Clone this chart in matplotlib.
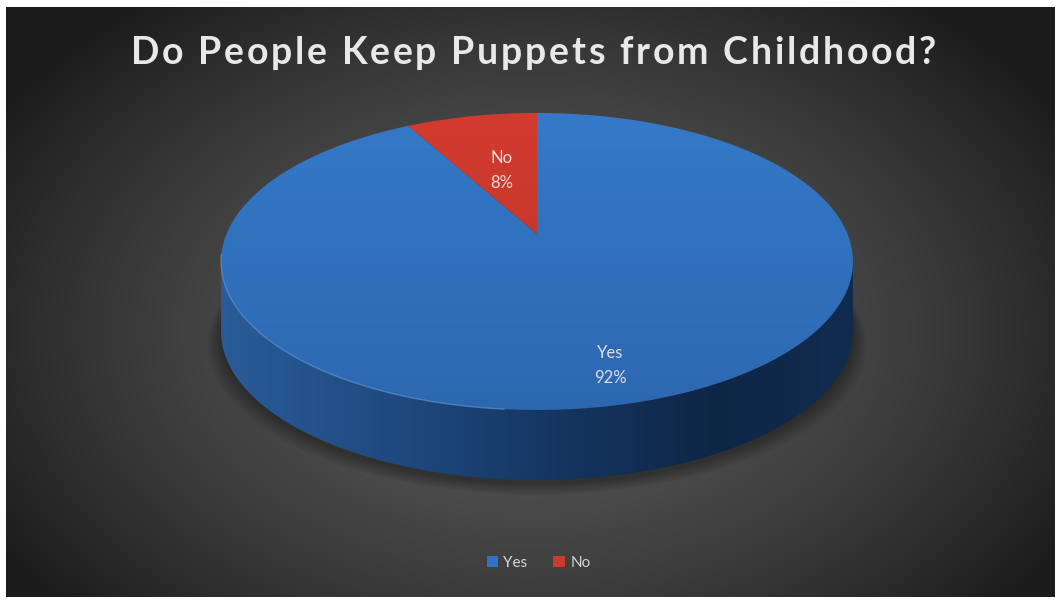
import numpy as np
import matplotlib.pyplot as plt
from matplotlib.patches import Polygon, Patch

title = 'Do People Keep Puppets from Childhood?'
labels = ['Yes', 'No']
values = [92, 8]
top_colors = [['#3579c8', '#2c68b0'], ['#d23c2e', '#b8302a']]
legend_colors = ['#2f74c4', '#cc3a2d']
label_radius = [0.81, 0.50]

W, H = 1060, 603
fig = plt.figure(figsize=(10.6, 6.03), dpi=100, facecolor='white')
ax = fig.add_axes([0, 0, 1, 1])


def hexrgb(h):
    return np.array([int(h[i:i + 2], 16) for i in (1, 3, 5)]) / 255.0


# dark radial background
x0, x1, y0, y1 = 6, 1055, 7, 597
yy, xx = np.mgrid[y0:y1, x0:x1]
r = np.sqrt(((xx - 530) / 620.0) ** 2 + ((yy - 330) / 420.0) ** 2)
g = (88 - 60 * np.clip(r, 0, 1) ** 1.6) / 255.0
ax.imshow(np.dstack([g, g, g]), extent=(x0, x1, y1, y0), zorder=0, aspect='auto')

# perspective pie geometry (pixels)
cx, cy = 537, 234
a, b, k = 310.5, 143.4, 0.185
depth = 70


def proj(theta, rho=1.0):
    # theta in degrees, clockwise from 12 o'clock
    t = np.radians(theta)
    u, v = rho * np.sin(t), -rho * np.cos(t)
    w = 1 - k * v
    return cx + a * u / w, cy + b * v / w


def vgrad(c_top, c_bot):
    t = np.linspace(0, 1, 200)[:, None, None]
    c0, c1 = hexrgb(c_top), hexrgb(c_bot)
    img = c0[None, None, :] * (1 - t) + c1[None, None, :] * t
    return np.repeat(img, 2, axis=1)


# soft shadow under the pie
th = np.linspace(0, 360, 361)
sx, sy = proj(th)
for i in range(8):
    grow = 1 + 0.006 * i
    ax.add_patch(Polygon(np.column_stack([cx + (sx - cx) * grow, sy + depth + 4 + 1.5 * i]),
                         closed=True, facecolor='black', edgecolor='none', alpha=0.045, zorder=1))

# side wall (front part of the rim, belongs to first slice)
th_r = np.degrees(np.arccos(-k))
th_l = 360 - th_r
ts = np.linspace(th_r, th_l, 200)
rx, ry = proj(ts)
side_pts = np.column_stack([np.r_[rx, rx[::-1]], np.r_[ry, ry[::-1] + depth]])
side = Polygon(side_pts, closed=True, facecolor='none', edgecolor='none', zorder=2)
ax.add_patch(side)
gx = np.linspace(0, 1, 400)
stops = [0, 0.3, 0.5, 0.78, 1.0]
cols = np.array([[42, 92, 152], [30, 72, 126], [22, 56, 100], [14, 38, 70], [18, 44, 80]]) / 255.0
side_img = np.stack([np.interp(gx, stops, cols[:, c]) for c in range(3)], axis=-1)[None, :, :]
side_img = np.repeat(side_img, 2, axis=0)
im = ax.imshow(side_img, extent=(rx.min() - 2, rx.max() + 2, ry.max() + depth + 2, ry.min() - 2),
               zorder=2, aspect='auto')
im.set_clip_path(side)

# top faces
total = float(sum(values))
start = 0.0
for i, (lab, val) in enumerate(zip(labels, values)):
    end = start + 360.0 * val / total
    ta = np.linspace(start, end, max(int(end - start) * 2, 10))
    px, py = proj(ta)
    pts = np.column_stack([np.r_[cx, px], np.r_[cy, py]])
    face = Polygon(pts, closed=True, facecolor='none', edgecolor='none', zorder=3)
    ax.add_patch(face)
    fim = ax.imshow(vgrad(top_colors[i][0], top_colors[i][1]),
                    extent=(pts[:, 0].min() - 2, pts[:, 0].max() + 2, 413, 112),
                    zorder=3, aspect='auto')
    fim.set_clip_path(face)
    mid = (start + end) / 2
    lx, ly = proj(mid, label_radius[i])
    ax.text(lx, ly, f'{lab}\n{val}%', ha='center', va='center', color='#dcdcdc',
            fontsize=12, family='Lato', linespacing=1.7, zorder=5)
    start = end

# light edge along the front-left rim
hx, hy = proj(np.linspace(185, 262, 80))
ax.plot(hx, hy, color='#6fa8e8', lw=1.0, alpha=0.5, zorder=4)

ax.set_xlim(0, W)
ax.set_ylim(H, 0)
ax.axis('off')

# title with expanded letter spacing
renderer = fig.canvas.get_renderer()
tkw = dict(color='#e8e8e8', fontsize=27, fontweight='bold', family='Lato', va='center', ha='left')
probe = fig.text(0, 0, title, **tkw)
natural = probe.get_window_extent(renderer).width
probe.remove()
target_w = 805.0
gap = (target_w - natural) / (len(title) - 1)
left = 131.0
for i, ch in enumerate(title):
    if i == 0:
        off = 0.0
    else:
        p = fig.text(0, 0, title[:i] + '|', **tkw)
        q = fig.text(0, 0, '|', **tkw)
        off = p.get_window_extent(renderer).width - q.get_window_extent(renderer).width
        p.remove()
        q.remove()
    fig.text((left + off + gap * i) / W, 1 - 53 / H, ch, **tkw)

handles = [Patch(facecolor=c, edgecolor='none') for c in legend_colors]
leg = ax.legend(handles, labels, loc='center', bbox_to_anchor=(0.508, 1 - 563 / H),
                ncol=2, frameon=False, handlelength=0.75, handleheight=0.75,
                handletextpad=0.35, columnspacing=1.7, labelcolor='#d6d6d6',
                prop={'family': 'Lato', 'size': 11})

fig.savefig('out.png', dpi=100, facecolor='white')
